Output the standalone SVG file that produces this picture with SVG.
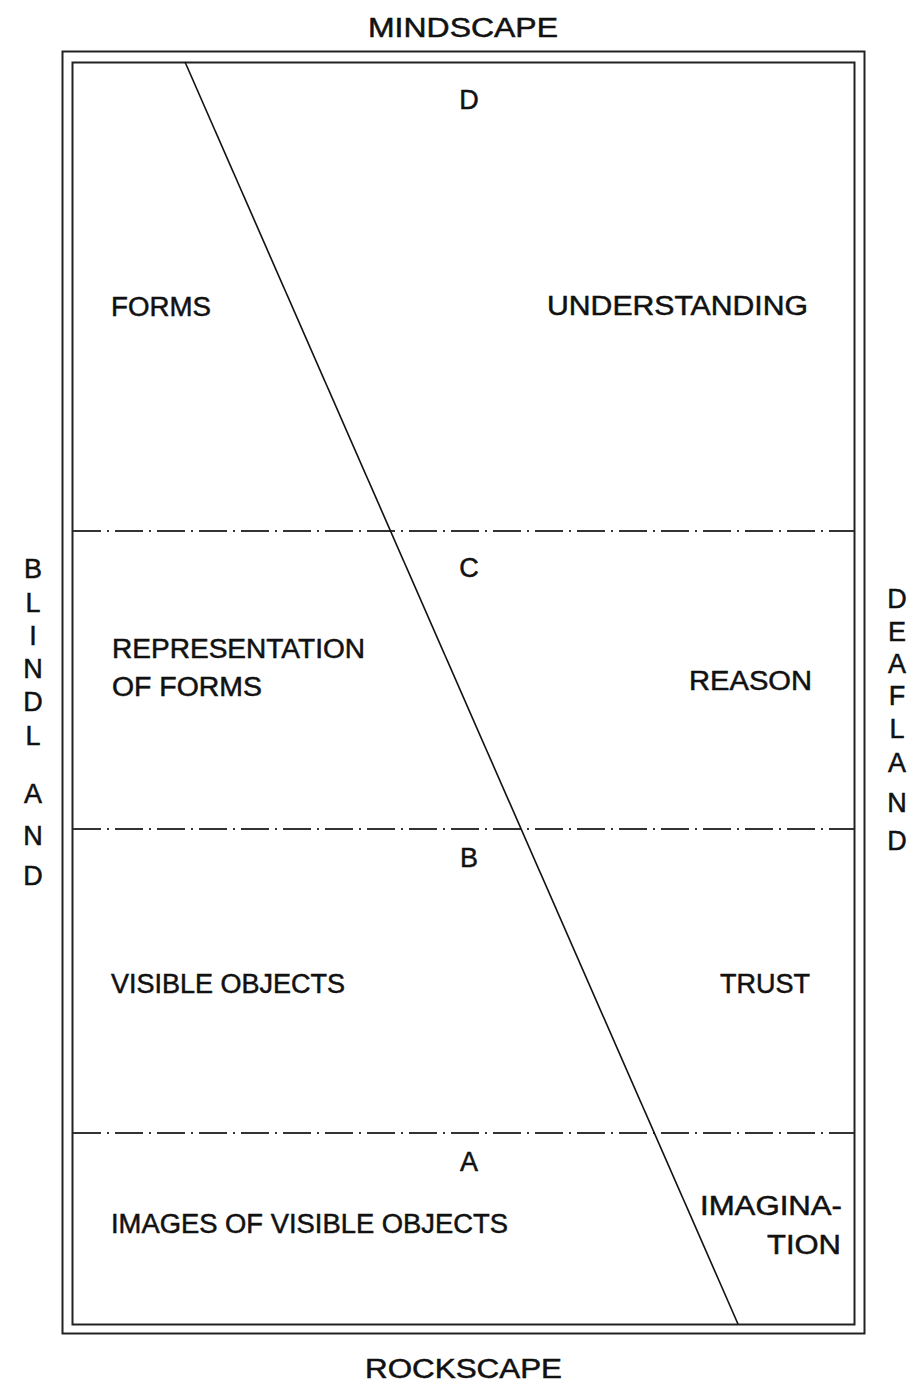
<svg xmlns="http://www.w3.org/2000/svg" width="913" height="1384" viewBox="0 0 913 1384">
<style>
.t{font-family:"Liberation Sans","DejaVu Sans",sans-serif;font-size:27px;fill:#111;stroke:#111;stroke-width:0.5}
.c{text-anchor:middle}
.frame{fill:none;stroke:#222;stroke-width:2}
.dd{stroke:#333;stroke-width:2;stroke-dasharray:28 6 2 6;fill:none}
</style>
<rect width="913" height="1384" fill="#fff"/>
<g id="frame">
<rect class="frame" x="62.5" y="51.5" width="802" height="1282"/>
<rect class="frame" x="72.5" y="62.5" width="782" height="1262"/>
</g>
<g id="connectors">
<line x1="73" y1="531" x2="854" y2="531" class="dd"/>
<line x1="73" y1="829" x2="854" y2="829" class="dd"/>
<line x1="73" y1="1133" x2="854" y2="1133" class="dd"/>
<line x1="185" y1="62" x2="738" y2="1324" stroke="#111" stroke-width="1.6"/>
</g>
<g id="edge-labels">
<text class="t" x="368" y="37" textLength="190" lengthAdjust="spacingAndGlyphs">MINDSCAPE</text>
<text class="t" x="365" y="1378" textLength="197" lengthAdjust="spacingAndGlyphs">ROCKSCAPE</text>
</g>
<g id="blindland" class="t c">
<text x="33" y="578">B</text>
<text x="33" y="612">L</text>
<text x="33" y="645">I</text>
<text x="33" y="678">N</text>
<text x="33" y="711">D</text>
<text x="33" y="745">L</text>
<text x="33" y="803">A</text>
<text x="33" y="845">N</text>
<text x="33" y="885">D</text>
</g>
<g id="deafland" class="t c">
<text x="897" y="608">D</text>
<text x="897" y="641">E</text>
<text x="897" y="673">A</text>
<text x="897" y="705">F</text>
<text x="897" y="738">L</text>
<text x="897" y="772">A</text>
<text x="897" y="812">N</text>
<text x="897" y="850">D</text>
</g>
<g id="node-D"><text class="t c" x="469" y="109">D</text></g>
<g id="node-forms"><text class="t" x="111" y="316" textLength="100" lengthAdjust="spacingAndGlyphs">FORMS</text></g>
<g id="node-understanding"><text class="t" x="547" y="315" textLength="261" lengthAdjust="spacingAndGlyphs">UNDERSTANDING</text></g>
<g id="node-C"><text class="t c" x="469" y="577">C</text></g>
<g id="node-representation">
<text class="t" x="112" y="658" textLength="253" lengthAdjust="spacingAndGlyphs">REPRESENTATION</text>
<text class="t" x="112" y="696" textLength="150" lengthAdjust="spacingAndGlyphs">OF FORMS</text>
</g>
<g id="node-reason"><text class="t" x="689" y="690" textLength="123" lengthAdjust="spacingAndGlyphs">REASON</text></g>
<g id="node-B"><text class="t c" x="469" y="867">B</text></g>
<g id="node-visible"><text class="t" x="111" y="993" textLength="234" lengthAdjust="spacingAndGlyphs">VISIBLE OBJECTS</text></g>
<g id="node-trust"><text class="t" x="720" y="993" textLength="90" lengthAdjust="spacingAndGlyphs">TRUST</text></g>
<g id="node-A"><text class="t c" x="469" y="1171">A</text></g>
<g id="node-images"><text class="t" x="111" y="1233" textLength="397" lengthAdjust="spacingAndGlyphs">IMAGES OF VISIBLE OBJECTS</text></g>
<g id="node-imagination">
<text class="t" x="700" y="1215" textLength="142" lengthAdjust="spacingAndGlyphs">IMAGINA-</text>
<text class="t" x="767" y="1254" textLength="74" lengthAdjust="spacingAndGlyphs">TION</text>
</g>
</svg>
